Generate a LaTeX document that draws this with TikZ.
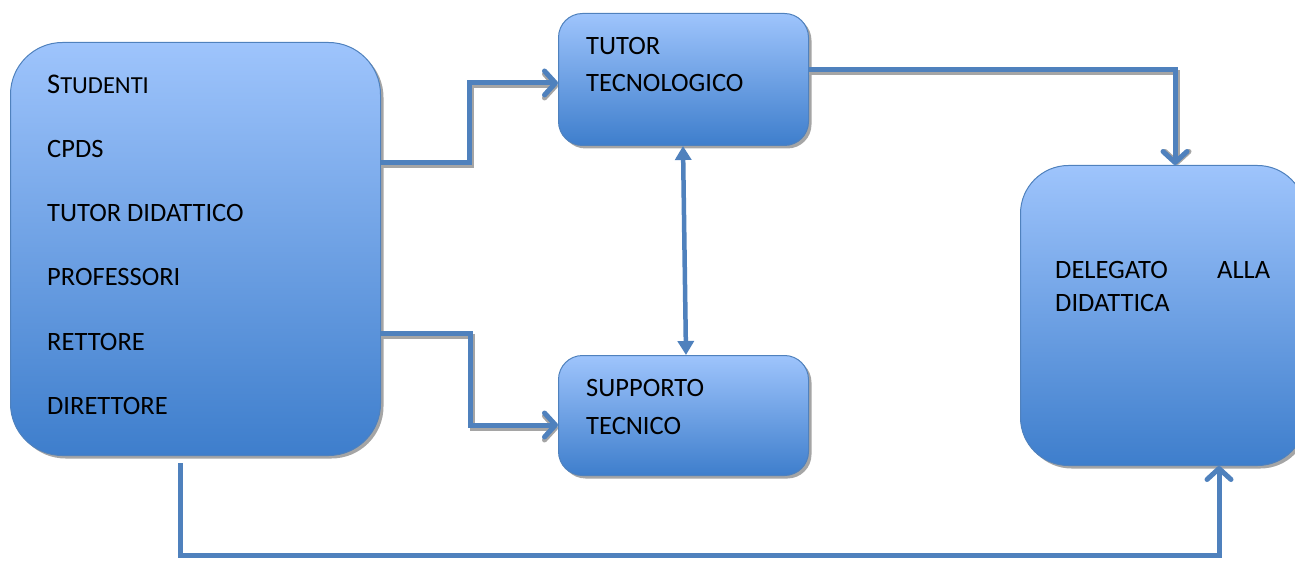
\documentclass[tikz,border=0pt]{standalone}
\usepackage{fontspec}
\setmainfont{Carlito}
\usetikzlibrary{arrows.meta,shadows}
\definecolor{btop}{RGB}{158,196,252}
\definecolor{bbot}{RGB}{62,126,204}
\definecolor{bedge}{RGB}{79,129,189}
\definecolor{connc}{RGB}{79,129,189}
\definecolor{shad}{RGB}{165,165,165}
\begin{document}
\begin{tikzpicture}[x=1pt,y=-1pt,
  box/.style={draw=bedge, line width=1pt, top color=btop, bottom color=bbot,
    inner sep=0pt, anchor=north west,
    drop shadow={shadow xshift=3pt, shadow yshift=-3pt, fill=shad, opacity=1}},
  lbl/.style={anchor=base west, inner sep=0pt, font=\fontsize{26.5}{30}\selectfont},
  connline/.style={draw=connc, line width=5pt, line join=miter},
  connshad/.style={draw=shad, line width=5pt, line join=miter, shift={(2,3)}},
  barb/.style={-{Straight Barb[length=11pt,width=24pt,round]}},
]
\useasboundingbox (0,0) rectangle (1295,561);
\clip (0,0) rectangle (1295,561);

% boxes
\node[box, rounded corners=52pt, minimum width=370pt, minimum height=413pt] (people) at (10,42) {};
\node[box, rounded corners=24pt, minimum width=250pt, minimum height=132pt] (tutor) at (558,13) {};
\node[box, rounded corners=24pt, minimum width=250pt, minimum height=120pt] (supp) at (558,355) {};
\node[box, rounded corners=48pt, minimum width=285pt, minimum height=300pt] (deleg) at (1020,165) {};

% labels
\node[lbl] (l1) at (47,94) {{\fontsize{28.5}{30}\selectfont S}{\fontsize{24.5}{30}\selectfont TUDENTI}};
\node[lbl] (l2) at (47,158) {CPDS};
\node[lbl] (l3) at (47,222) {TUTOR DIDATTICO};
\node[lbl] (l4) at (47,286) {PROFESSORI};
\node[lbl] (l5) at (47,350) {RETTORE};
\node[lbl] (l6) at (47,414) {DIRETTORE};
\node[lbl] (t1) at (586,55) {TUTOR};
\node[lbl] (t2) at (586,92) {TECNOLOGICO};
\node[lbl] (s1) at (586,396) {SUPPORTO};
\node[lbl] (s2) at (586,434) {TECNICO};
\node[lbl] (d1) at (1055,279) {\makebox[215pt][l]{DELEGATO\hfill ALLA}};
\node[lbl] (d2) at (1055,311) {DIDATTICA};

\coordinate (bstart) at (180,463);

% connector shadows
\draw[connshad, barb] (people.east |- 0,163) -- (469,163) -- (469,83) -- (tutor.west |- 0,83);
\draw[connshad, barb] (people.east |- 0,333) -- (470,333) -- (470,425) -- (supp.west |- 0,425);
\draw[connshad, barb] (tutor.east |- 0,70) -- (1175,70) -- (deleg.north -| 1175,0);

% connectors
\draw[connline, barb] (people.east |- 0,163) -- (469,163) -- (469,83) -- (tutor.west |- 0,83);
\draw[connline, barb] (people.east |- 0,333) -- (470,333) -- (470,425) -- (supp.west |- 0,425);
\draw[connline, barb] (tutor.east |- 0,70) -- (1175,70) -- (deleg.north -| 1175,0);
\draw[connline, barb] (bstart) -- (180,555) -- (1219,555) -- (deleg.south -| 1219,0);
\draw[draw=connc, line width=4.5pt, {Triangle[length=14pt,width=16pt]}-{Triangle[length=14pt,width=16pt]}]
  (tutor.south -| 683,0) -- (supp.north -| 686,0);
\end{tikzpicture}
\end{document}
